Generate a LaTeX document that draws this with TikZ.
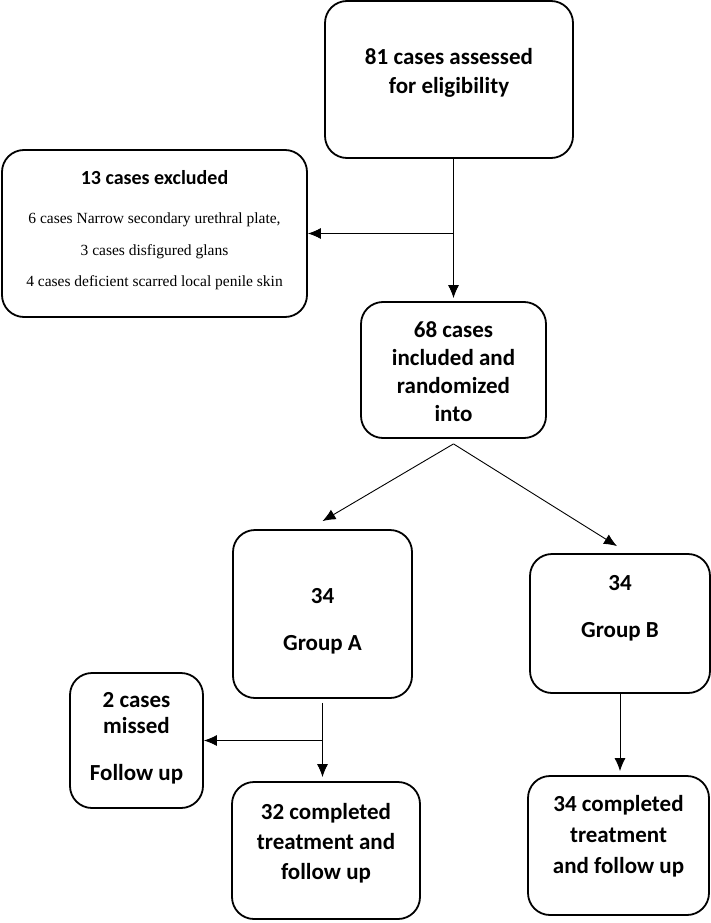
\documentclass[tikz,border=0pt]{standalone}
\usepackage{fontspec}
\setmainfont{Liberation Serif}
\newfontfamily\calibfont{Carlito}
\usetikzlibrary{arrows.meta, positioning}
\tikzset{
  flowbox/.style={draw, line width=1.8pt, rounded corners=22pt, inner sep=0pt},
  boxtext/.style={align=center, inner sep=0pt, font=\calibfont\bfseries\fontsize{23}{29}\selectfont},
  flowline/.style={line width=0.9pt},
  flowarrow/.style={flowline, -{Latex[length=13pt,width=11pt]}}
}

\begin{document}
\begin{tikzpicture}[x=1pt, y=-1pt]
  \useasboundingbox[fill=white] (0,0) rectangle (710,923);

  %Boxes
  \node[flowbox, minimum width=248, minimum height=157] (assess) at (449,79.5) {};
  \node[flowbox, minimum width=305, minimum height=167] (excl) at (154.5,233.5) {};
  \node[flowbox, minimum width=185, minimum height=136] (incl) at (453.5,370) {};
  \node[flowbox, minimum width=179, minimum height=168] (grpA) at (322.5,614) {};
  \node[flowbox, minimum width=180, minimum height=139] (grpB) at (620,623.5) {};
  \node[flowbox, minimum width=133, minimum height=135] (missed) at (136.5,740.5) {};
  \node[flowbox, minimum width=188, minimum height=137] (doneA) at (326,850.5) {};
  \node[flowbox, minimum width=181, minimum height=139] (doneB) at (618.5,845.5) {};

  %Texts
  \node[boxtext] (assessT) at (449,72.5) {81 cases assessed\\for eligibility};
  \node[boxtext, font=\calibfont\bfseries\fontsize{20}{24}\selectfont] (exclT) at (154.5,178) {13 cases excluded};
  \node[align=center, inner sep=0pt, font=\fontsize{15.5}{31.5}\selectfont] (exclL) at (154.5,251.5)
    {6 cases Narrow secondary urethral plate,\\3 cases disfigured glans\\4 cases deficient scarred local penile skin};
  \node[boxtext, font=\calibfont\bfseries\fontsize{23}{28}\selectfont] (inclT) at (453.5,371.5) {68 cases\\included and\\randomized\\into};
  \node[boxtext] (grpAT) at (322.5,621.5) {34\\[18pt]Group A};
  \node[boxtext] (grpBT) at (620,608.5) {34\\[18pt]Group B};
  \node[boxtext, font=\calibfont\bfseries\fontsize{23}{26}\selectfont] (missedT) at (136.5,738.5) {2 cases\\missed\\[21pt]Follow up};
  \node[boxtext, font=\calibfont\bfseries\fontsize{23}{30}\selectfont] (doneAT) at (326,843) {32 completed\\treatment and\\follow up};
  \node[boxtext, font=\calibfont\bfseries\fontsize{23}{31}\selectfont] (doneBT) at (618.5,836.5) {34 completed\\treatment\\and follow up};

  %Connectors
  \draw[flowarrow, shorten >=3pt] (incl.north |- assess.south) -- (incl.north);
  \coordinate (exclJoin) at (incl.north |- excl.east);
  \draw[flowarrow] (exclJoin) -- (excl.east);

  \coordinate (split) at ([yshift=-5]incl.south);
  \draw[flowarrow] (split) -- ([yshift=8]grpA.north);
  \draw[flowarrow] (split) -- ([xshift=-3,yshift=7]grpB.north);

  \draw[flowarrow, shorten <=4pt, shorten >=4pt] (grpA.south) -- (grpA.south |- doneA.north);
  \coordinate (missJoin) at (grpA.south |- missed.east);
  \draw[flowarrow] (missJoin) -- (missed.east);

  \draw[flowarrow, shorten >=4pt] (grpB.south) -- (grpB.south |- doneB.north);
\end{tikzpicture}
\end{document}
